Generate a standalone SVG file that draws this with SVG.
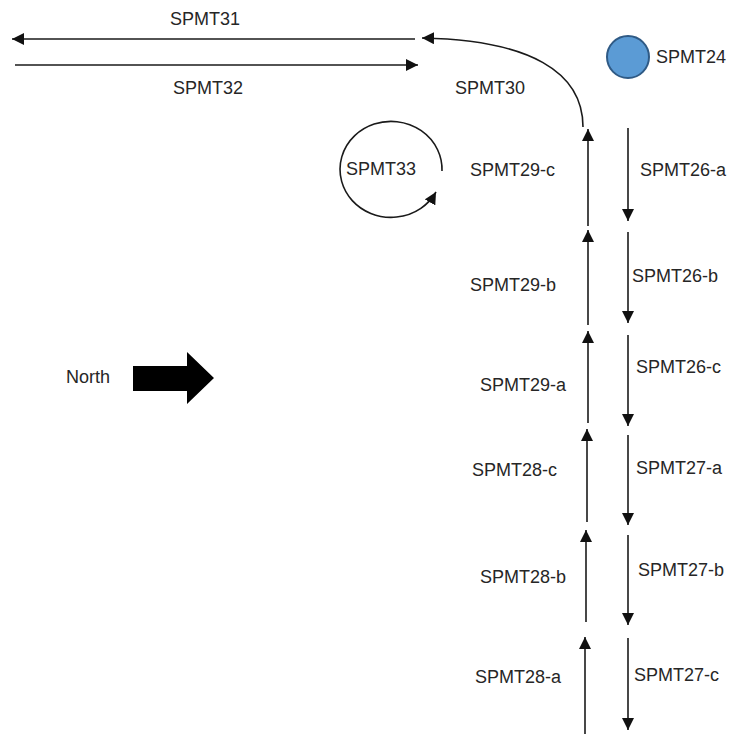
<svg xmlns="http://www.w3.org/2000/svg" width="731" height="734" viewBox="0 0 731 734">
<style>
.ln{fill:none;stroke:#1a1a1a;stroke-width:1.6}
.t{font-family:"Liberation Sans",Arial,sans-serif;font-size:18px;fill:#262626}
</style>
<defs>
<marker id="ah" markerUnits="userSpaceOnUse" markerWidth="14" markerHeight="12" refX="12" refY="6" orient="auto"><path d="M0,0 L12,6 L0,12 z" fill="#111"/></marker>
</defs>
<rect width="731" height="734" fill="#fff"/>
<g id="connectors">
<path class="ln" d="M415,39 L12,39" marker-end="url(#ah)"/>
<path class="ln" d="M15,65 L418,65" marker-end="url(#ah)"/>
<path class="ln" d="M583,127 C583,72 530,40 422,38" marker-end="url(#ah)"/>
<path class="ln" d="M442,171 A51,48 0 1 0 436,192" marker-end="url(#ah)"/>
<path class="ln" d="M588,226 L588,129" marker-end="url(#ah)"/>
<path class="ln" d="M588,325 L588,230" marker-end="url(#ah)"/>
<path class="ln" d="M588,423 L588,331" marker-end="url(#ah)"/>
<path class="ln" d="M587,522 L587,429" marker-end="url(#ah)"/>
<path class="ln" d="M586,622 L586,530" marker-end="url(#ah)"/>
<path class="ln" d="M585,734 L585,637" marker-end="url(#ah)"/>
<path class="ln" d="M628,128 L628,221" marker-end="url(#ah)"/>
<path class="ln" d="M628,232 L628,323" marker-end="url(#ah)"/>
<path class="ln" d="M628,335 L628,426" marker-end="url(#ah)"/>
<path class="ln" d="M628,435 L628,525" marker-end="url(#ah)"/>
<path class="ln" d="M628,535 L628,625" marker-end="url(#ah)"/>
<path class="ln" d="M628,638 L628,730" marker-end="url(#ah)"/>
</g>
<g id="SPMT31"><text class="t" x="205" y="25" text-anchor="middle">SPMT31</text></g>
<g id="SPMT32"><text class="t" x="208" y="94" text-anchor="middle">SPMT32</text></g>
<g id="SPMT30"><text class="t" x="490" y="94" text-anchor="middle">SPMT30</text></g>
<g id="SPMT24">
<circle cx="628" cy="57" r="21" fill="#5B9BD5" stroke="#2F5A85" stroke-width="2"/>
<text class="t" x="656" y="63">SPMT24</text>
</g>
<g id="SPMT33"><text class="t" x="381" y="175" text-anchor="middle">SPMT33</text></g>
<g id="SPMT29-c"><text class="t" x="470" y="176">SPMT29-c</text></g>
<g id="SPMT29-b"><text class="t" x="470" y="291">SPMT29-b</text></g>
<g id="SPMT29-a"><text class="t" x="480" y="391">SPMT29-a</text></g>
<g id="SPMT28-c"><text class="t" x="472" y="476">SPMT28-c</text></g>
<g id="SPMT28-b"><text class="t" x="480" y="583">SPMT28-b</text></g>
<g id="SPMT28-a"><text class="t" x="475" y="683">SPMT28-a</text></g>
<g id="SPMT26-a"><text class="t" x="640" y="176">SPMT26-a</text></g>
<g id="SPMT26-b"><text class="t" x="632" y="282">SPMT26-b</text></g>
<g id="SPMT26-c"><text class="t" x="636" y="373">SPMT26-c</text></g>
<g id="SPMT27-a"><text class="t" x="636" y="474">SPMT27-a</text></g>
<g id="SPMT27-b"><text class="t" x="638" y="576">SPMT27-b</text></g>
<g id="SPMT27-c"><text class="t" x="634" y="681">SPMT27-c</text></g>
<g id="North">
<text class="t" x="66" y="383">North</text>
<path d="M133,366 L187,366 L187,352 L214,378 L187,404 L187,391 L133,391 z" fill="#000"/>
</g>
</svg>
